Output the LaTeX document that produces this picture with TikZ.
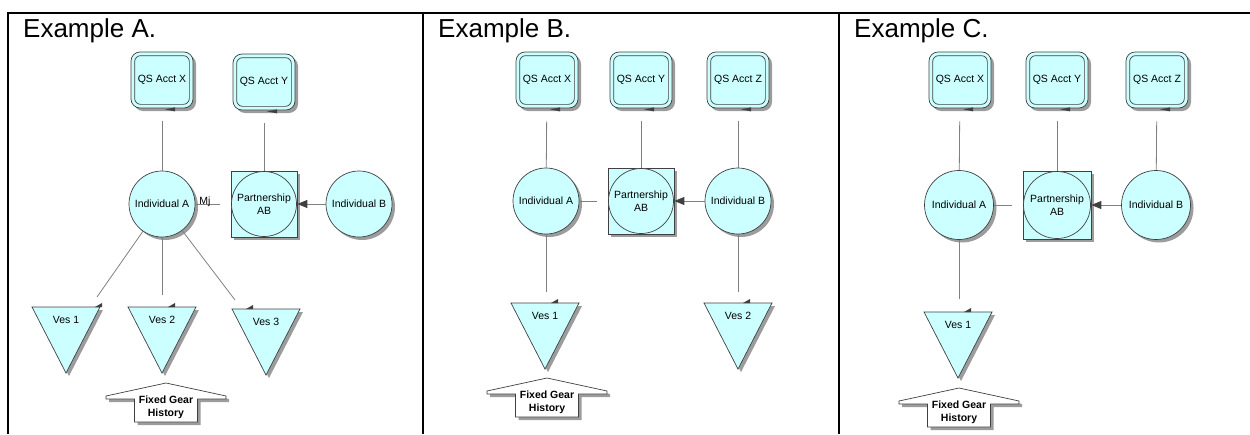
\documentclass[tikz,border=0pt]{standalone}
\usepackage{fontspec}
\setmainfont{Liberation Sans}
\usetikzlibrary{shadows,arrows.meta,calc}

\definecolor{vfill}{HTML}{CCFFFF}
\definecolor{vline}{HTML}{404040}
\definecolor{vconn}{HTML}{808080}
\definecolor{vshadow}{HTML}{9C9C9C}

\tikzset{
  shade3/.style={drop shadow={shadow xshift=3pt,shadow yshift=-3pt,fill=vshadow,opacity=1}},
  basefont/.style={font=\fontsize{10.5}{13}\selectfont},
  outline/.style={draw=vline,line width=0.7pt},
  qsbox/.style={rectangle,rounded corners=9pt,minimum width=62pt,minimum height=56pt,
    inner sep=0pt,fill=vfill,outline,shade3,basefont},
  indiv/.style={circle,minimum size=66pt,inner sep=0pt,fill=vfill,outline,shade3,basefont},
  partsq/.style={rectangle,minimum size=66pt,inner sep=0pt,fill=vfill,outline,shade3},
  partc/.style={circle,minimum size=65pt,inner sep=0pt,fill=vfill,outline,basefont,align=center},
  conn/.style={draw=vconn,line width=0.8pt},
  flowarrow/.style={conn,-{Triangle[length=10pt,width=8pt,color=vline,fill=vline]}},
  title/.style={font=\fontsize{26}{30}\selectfont,anchor=base west,inner sep=0pt},
  fgtext/.style={font=\fontsize{10.5}{13}\selectfont\bfseries,align=center,inner sep=0pt},
  frame/.style={draw=black,line width=2pt}
}

% account box: outer rounded box, inner rounded outline, small tab below
\newcommand\QSBox[3]{%
  \node[qsbox] (#1) at (#2) {#3};
  \draw[outline,rounded corners=6pt] ($(#1.south west)+(4,-4)$) rectangle ($(#1.north east)+(-4,4)$);
  \fill[vline] ($(#1.south)+(3,1)$) -- ($(#1.south)+(13,-1)$) -- ($(#1.south)+(13,3)$) -- cycle;
}

% vessel: downward triangle with a small tab on the top edge
\newcommand\VesTri[5]{%
  \begin{scope}[shift={(#2,#3)}]
    \fill[vshadow] (-31,3) -- (37,3) -- (3,69) -- cycle;
    \filldraw[fill=vfill,outline] (-34,0) -- (34,0) -- (0,66) -- cycle;
    \fill[vline] (#4-7,0) -- (#4,-4) -- (#4,0) -- cycle;
    \node[basefont] (#1) at (0,13) {#5};
  \end{scope}
}

% block arrow pointing up, carrying the history label
\newcommand\FGArrow[3]{%
  \begin{scope}[shift={(#2,#3)}]
    \fill[vshadow,shift={(3,3)}] (0,0) -- (60,13) -- (60,16) -- (31.5,16) -- (31.5,39)
      -- (-31.5,39) -- (-31.5,16) -- (-60,16) -- (-60,13) -- cycle;
    \filldraw[fill=white,outline] (0,0) -- (60,13) -- (60,16) -- (31.5,16) -- (31.5,39)
      -- (-31.5,39) -- (-31.5,16) -- (-60,16) -- (-60,13) -- cycle;
    \node[fgtext] (#1) at (0,24) {Fixed Gear\\History};
  \end{scope}
}

\begin{document}
\begin{tikzpicture}[x=1pt,y=-1pt]
\useasboundingbox (0,0) rectangle (1250,434);

% frame
\draw[frame] (8,434) -- (8,13) -- (1250,13);
\draw[frame] (423,13) -- (423,434);
\draw[frame] (839,13) -- (839,434);

% ---------- Example A ----------
\node[title] (a-title) at (23,37) {Example A.};
\QSBox{a-qx}{162,80}{QS Acct X}
\QSBox{a-qy}{264,82}{QS Acct Y}
\node[indiv] (a-ia) at (162,204) {Individual A};
\node[partsq] (a-pab) at (264,204) {};
\node[partc] (a-pabc) at (a-pab) {Partnership\\AB};
\node[indiv] (a-ib) at (359,204) {Individual B};
\VesTri{a-v1}{66}{307}{36}{Ves 1}
\VesTri{a-v2}{162}{307}{13}{Ves 2}
\VesTri{a-v3}{266}{309}{-13}{Ves 3}
\FGArrow{a-fg}{166}{383}

\coordinate (a-e1) at (97,297);
\coordinate (a-e2) at (162,295);
\coordinate (a-e3) at (235,300);
\draw[conn,shorten <=13pt] (a-qx) -- (a-ia);
\draw[conn,shorten <=13pt] (a-qy) -- (a-pab);
\draw[conn,shorten >=11pt] (a-ia) -- (a-pab);
\node[basefont,anchor=base,inner sep=0pt] (a-mj) at (205,204) {Mj};
\draw[flowarrow] (a-ib) -- (a-pab);
\draw[conn] (a-ia) -- (a-e1);
\draw[conn] (a-ia) -- (a-e2);
\draw[conn] (a-ia) -- (a-e3);

% ---------- Example B ----------
\node[title] (b-title) at (438,37) {Example B.};
\QSBox{b-qx}{547,80}{QS Acct X}
\QSBox{b-qy}{641,80}{QS Acct Y}
\QSBox{b-qz}{738,80}{QS Acct Z}
\node[indiv] (b-ia) at (546,201) {Individual A};
\node[partsq] (b-pab) at (641,201) {};
\node[partc] (b-pabc) at (b-pab) {Partnership\\AB};
\node[indiv] (b-ib) at (738,201) {Individual B};
\VesTri{b-v1}{545}{303}{13}{Ves 1}
\VesTri{b-v2}{738}{303}{12}{Ves 2}
\FGArrow{b-fg}{547}{378}

\coordinate (b-e1) at (546,292);
\coordinate (b-e2) at (738,292);
\draw[conn,shorten <=13pt] (b-qx) -- (b-ia);
\draw[conn,shorten <=13pt] (b-qy) -- (b-pab);
\draw[conn,shorten <=13pt] (b-qz) -- (b-ib);
\draw[conn,shorten >=11pt] (b-ia) -- (b-pab);
\draw[flowarrow] (b-ib) -- (b-pab);
\draw[conn] (b-ia) -- (b-e1);
\draw[conn] (b-ib) -- (b-e2);

% ---------- Example C ----------
\node[title] (c-title) at (854,37) {Example C.};
\QSBox{c-qx}{960,80}{QS Acct X}
\QSBox{c-qy}{1057,80}{QS Acct Y}
\QSBox{c-qz}{1157,80}{QS Acct Z}
\node[indiv,minimum size=69pt] (c-ia) at (959,205) {Individual A};
\node[partsq,minimum size=68pt] (c-pab) at (1057,205) {};
\node[partc,minimum size=67pt] (c-pabc) at (c-pab) {Partnership\\AB};
\node[indiv,minimum size=69pt] (c-ib) at (1156,205) {Individual B};
\VesTri{c-v1}{958}{312}{13}{Ves 1}
\FGArrow{c-fg}{959}{388}

\coordinate (c-e1) at (959,299);
\draw[conn,shorten <=13pt] (c-qx) -- (c-ia);
\draw[conn,shorten <=13pt] (c-qy) -- (c-pab);
\draw[conn,shorten <=13pt] (c-qz) -- (c-ib);
\draw[conn,shorten >=11pt] (c-ia) -- (c-pab);
\draw[flowarrow] (c-ib) -- (c-pab);
\draw[conn] (c-ia) -- (c-e1);
\end{tikzpicture}
\end{document}
